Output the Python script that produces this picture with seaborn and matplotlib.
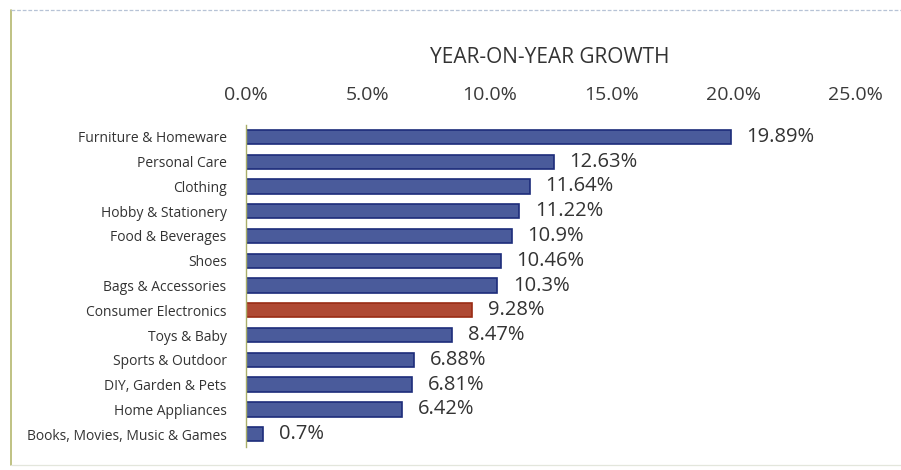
import matplotlib
matplotlib.use("Agg")
import matplotlib.pyplot as plt
from matplotlib.lines import Line2D
from matplotlib.ticker import FuncFormatter
import seaborn as sns
import pandas as pd

categories = [
    "Furniture & Homeware", "Personal Care", "Clothing", "Hobby & Stationery",
    "Food & Beverages", "Shoes", "Bags & Accessories", "Consumer Electronics",
    "Toys & Baby", "Sports & Outdoor", "DIY, Garden & Pets", "Home Appliances",
    "Books, Movies, Music & Games",
]
growth = [19.89, 12.63, 11.64, 11.22, 10.9, 10.46, 10.3, 9.28, 8.47, 6.88, 6.81, 6.42, 0.7]
value_labels = ["19.89%", "12.63%", "11.64%", "11.22%", "10.9%", "10.46%", "10.3%",
                "9.28%", "8.47%", "6.88%", "6.81%", "6.42%", "0.7%"]
highlight = "Consumer Electronics"
x_ticks = [0, 5, 10, 15, 20, 25]

sns.set_theme(style="white")
plt.rcParams["font.family"] = ["Open Sans", "DejaVu Sans"]

df = pd.DataFrame({"category": categories, "growth": growth})
df["group"] = ["hi" if c == highlight else "base" for c in categories]

fig = plt.figure(figsize=(9.01, 4.70), dpi=100)
ax = fig.add_axes([0.273, 0.050, 0.676, 0.685])

palette = {"base": "#3d53a8", "hi": "#c43c1e"}
sns.barplot(data=df, y="category", x="growth", hue="group", palette=palette,
            orient="h", dodge=False, width=0.58, legend=False, ax=ax,
            edgecolor="#1d2c7a", linewidth=1.2)
for patch in ax.patches:
    if patch.get_facecolor()[0] > 0.5:
        patch.set_edgecolor("#9a2c14")

ax.set_xlim(0, 25)
ax.set_ylim(len(categories) - 0.5, -0.5)
ax.set_xticks(x_ticks)
ax.xaxis.set_major_formatter(FuncFormatter(lambda v, p: f"{v:.1f}%"))
ax.xaxis.tick_top()
ax.tick_params(axis="x", length=0, pad=15, labelsize=14, labelcolor="#3a3a3a")
ax.tick_params(axis="y", length=0, pad=14, labelsize=10, labelcolor="#333333")
ax.set_xlabel("")
ax.set_ylabel("")
for side in ("top", "right", "bottom"):
    ax.spines[side].set_visible(False)
ax.spines["left"].set_color("#a9ae6a")
ax.spines["left"].set_linewidth(1.0)

for i, (v, lab) in enumerate(zip(growth, value_labels)):
    ax.text(v + 0.65, i, lab, va="center", ha="left", fontsize=14.5, color="#333333")

fig.text(0.61, 0.878, "YEAR-ON-YEAR GROWTH", ha="center", va="center",
         fontsize=15, color="#333333")

# outer frame of the chart area
fig.add_artist(Line2D([0.0125, 0.0125], [0.01, 0.978], color="#b4b86e", lw=1.2,
                      transform=fig.transFigure))
fig.add_artist(Line2D([0.0125, 1.0], [0.978, 0.978], color="#b7c3d6", lw=0.9,
                      ls=(0, (3, 1.5)), transform=fig.transFigure))
fig.add_artist(Line2D([0.0125, 1.0], [0.011, 0.011], color="#e3e6dc", lw=0.9,
                      transform=fig.transFigure))

fig.savefig("out.png", dpi=100)
